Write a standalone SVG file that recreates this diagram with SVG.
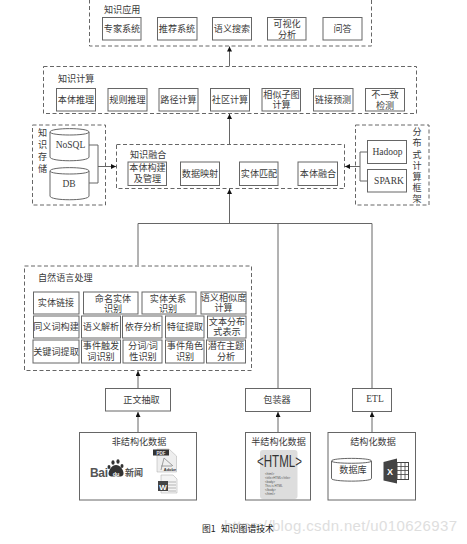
<svg xmlns="http://www.w3.org/2000/svg" width="467" height="544" viewBox="0 0 467 544">
<style>
text{font-family:"Liberation Serif","Noto Sans CJK SC",serif;font-size:9.1px;fill:#3a3a3a;text-anchor:middle}
.l{text-anchor:start}
.lat{font-size:9.5px}
.d{fill:none;stroke:#666;stroke-width:1;stroke-dasharray:4 2.5}
.b{fill:#fff;stroke:#666;stroke-width:1}
.c{fill:none;stroke:#666;stroke-width:1}
.a{fill:none;stroke:#666;stroke-width:1;marker-end:url(#arr)}
.s{font-family:"Liberation Sans",sans-serif}
.t{font-family:"Liberation Sans",sans-serif;font-size:3px;fill:#555;text-anchor:start}
</style>
<defs>
<marker id="arr" markerUnits="userSpaceOnUse" markerWidth="6" markerHeight="6" refX="5" refY="2.5" orient="auto"><path d="M0 0L5 2.5L0 5Z" fill="#111"/></marker>
</defs>
<rect width="467" height="544" fill="#fff"/>
<g id="connectors">
<path class="a" d="M229.500 66V46.500"/>
<path class="a" d="M229.500 144V114"/>
<path class="a" d="M229.500 223.500V189"/>
<path class="c" d="M138 265V223.500H372V388M278 223.500V388"/>
<path class="c" d="M89 145H98V183H89"/>
<path class="a" d="M98 166.500H116"/>
<path class="c" d="M367 152H360V181H367"/>
<path class="a" d="M360 166.500H345"/>
<path class="a" d="M138 388V371"/>
<path class="a" d="M138 432V412"/>
<path class="a" d="M278 432V412"/>
<path class="a" d="M372 432V412"/>
</g>
<g id="app">
<rect class="d" x="89.500" y="-4" width="282" height="50"/>
<text class="l" x="104" y="13">知识应用</text>
<rect class="b" x="102.500" y="17.500" width="38.500" height="22.500"/><text x="122" y="32">专家系统</text>
<rect class="b" x="157.500" y="17.500" width="39.500" height="22.500"/><text x="177" y="32">推荐系统</text>
<rect class="b" x="212.500" y="17.500" width="39" height="22.500"/><text x="232" y="32">语义搜索</text>
<rect class="b" x="267.500" y="17.500" width="38.500" height="22.500"/><text x="287" y="27">可视化</text><text x="287" y="38">分析</text>
<rect class="b" x="323" y="17.500" width="39" height="22.500"/><text x="342.500" y="32">问答</text>
</g>
<g id="compute">
<rect class="d" x="43.500" y="66.500" width="373" height="47"/>
<text class="l" x="58" y="82">知识计算</text>
<rect class="b" x="56.500" y="88.500" width="39" height="22.500"/><text x="76" y="103">本体推理</text>
<rect class="b" x="108" y="88.500" width="39" height="22.500"/><text x="127.500" y="103">规则推理</text>
<rect class="b" x="159" y="88.500" width="39" height="22.500"/><text x="178.500" y="103">路径计算</text>
<rect class="b" x="210.500" y="88.500" width="39" height="22.500"/><text x="230" y="103">社区计算</text>
<rect class="b" x="262" y="88.500" width="38.500" height="22.500"/><text x="281.500" y="98">相似子图</text><text x="281.500" y="108">计算</text>
<rect class="b" x="313.500" y="88.500" width="39.500" height="22.500"/><text x="333" y="103">链接预测</text>
<rect class="b" x="365.500" y="88.500" width="39" height="22.500"/><text x="385" y="98">不一致</text><text x="385" y="109">检测</text>
</g>
<g id="storage">
<rect class="d" x="32.500" y="125" width="73" height="80"/>
<text x="42.500" y="136">知</text><text x="42.500" y="148">识</text><text x="42.500" y="160">存</text><text x="42.500" y="172">储</text>
<path class="b" d="M50 132V157C50 162 89 162 89 157V132C89 127.500 50 127.500 50 132C50 136 89 136 89 132"/>
<text class="lat" x="70.500" y="147.500">NoSQL</text>
<path class="b" d="M50 171V196C50 201 89 201 89 196V171C89 166.500 50 166.500 50 171C50 175 89 175 89 171"/>
<text class="lat" x="69" y="186.500">DB</text>
</g>
<g id="fusion">
<rect class="d" x="116.500" y="144.500" width="228" height="44"/>
<text class="l" x="130" y="158">知识融合</text>
<rect class="b" x="128" y="162" width="38.500" height="23.500"/><text x="147.500" y="171">本体构建</text><text x="147.500" y="182">及管理</text>
<rect class="b" x="180.500" y="162" width="39" height="23.500"/><text x="200" y="177">数据映射</text>
<rect class="b" x="239.500" y="162" width="38.500" height="23.500"/><text x="259" y="177">实体匹配</text>
<rect class="b" x="298" y="162" width="39.500" height="23.500"/><text x="318" y="177">本体融合</text>
</g>
<g id="framework">
<rect class="d" x="355.500" y="125" width="73.500" height="80"/>
<rect class="b" x="367.500" y="140.500" width="39" height="23"/><text class="lat" x="387.500" y="155">Hadoop</text>
<rect class="b" x="367.500" y="169.500" width="39" height="22.500"/><text class="lat" x="389" y="184">SPARK</text>
<text x="417" y="135">分</text><text x="417" y="146">布</text><text x="417" y="157.500">式</text><text x="417" y="169">计</text><text x="417" y="180">算</text><text x="417" y="191">框</text><text x="417" y="202">架</text>
</g>
<g id="nlp">
<rect class="d" x="24.500" y="266" width="227" height="104.500"/>
<text class="l" x="38" y="281">自然语言处理</text>
<rect class="b" x="33.500" y="292" width="45.500" height="22"/><text x="56" y="306">实体链接</text>
<rect class="b" x="83.500" y="292" width="54.500" height="22"/><text x="113" y="302">命名实体</text><text x="113" y="312">识别</text>
<rect class="b" x="142" y="292" width="54" height="22"/><text x="168" y="302">实体关系</text><text x="168" y="312">识别</text>
<rect class="b" x="201" y="292" width="45" height="22"/><text x="223.500" y="301">语义相似度</text><text x="223.500" y="311">计算</text>
<rect class="b" x="33.500" y="316" width="45.500" height="22"/><text x="56" y="330">同义词构建</text>
<rect class="b" x="81.500" y="316" width="39" height="22"/><text x="101" y="330">语义解析</text>
<rect class="b" x="122.500" y="316" width="39.500" height="22"/><text x="143" y="330">依存分析</text>
<rect class="b" x="165.500" y="316" width="38.500" height="22"/><text x="185" y="330">特征提取</text>
<rect class="b" x="207.500" y="316" width="38.500" height="22"/><text x="227" y="325">文本分布</text><text x="227" y="335">式表示</text>
<rect class="b" x="33" y="340" width="46" height="23"/><text x="56" y="354.500">关键词提取</text>
<rect class="b" x="81.500" y="340" width="39" height="23"/><text x="101" y="349">事件触发</text><text x="101" y="359.500">词识别</text>
<rect class="b" x="123" y="340" width="39" height="23"/><text x="143" y="349">分词/词</text><text x="143" y="359.500">性识别</text>
<rect class="b" x="165.500" y="340" width="38.500" height="23"/><text x="185" y="349">事件角色</text><text x="185" y="359.500">识别</text>
<rect class="b" x="206.500" y="340" width="39" height="23"/><text x="226" y="349">潜在主题</text><text x="226" y="359.500">分析</text>
</g>
<g id="extract"><rect class="b" x="105.500" y="388.500" width="65" height="22.500"/><text x="141.500" y="403">正文抽取</text></g>
<g id="wrapper"><rect class="b" x="245.500" y="388.500" width="65" height="23"/><text x="277" y="403">包装器</text></g>
<g id="etl"><rect class="b" x="352.500" y="388.500" width="39" height="23"/><text class="lat" x="375" y="402">ETL</text></g>
<g id="unstructured">
<rect class="b" x="79.500" y="432.500" width="117" height="67.500"/>
<text x="139" y="445">非结构化数据</text>
<text class="l s" x="90" y="477" style="font-size:12px;font-weight:700;fill:#555" textLength="18">Bai</text>
<g fill="#333"><ellipse cx="113" cy="462.500" rx="1.600" ry="2.200"/><ellipse cx="118" cy="461.500" rx="1.600" ry="2.200"/><ellipse cx="109" cy="467" rx="1.500" ry="2"/><ellipse cx="122" cy="466" rx="1.500" ry="2"/><path d="M116 465C120 465 124 470 123.500 474C123 477 119 477 116 476C113 477 109 477 108.500 474C108.500 470 112 465 116 465Z"/></g>
<text x="116" y="475.500" class="s" style="font-size:5.500px;font-weight:700;fill:#fff">du</text>
<text class="l" x="125" y="476" style="font-family:'Noto Sans CJK SC',sans-serif;font-size:9px;font-weight:700;fill:#555">新闻</text>
<path d="M157 449H169L176.500 456V472H157Z" fill="#eee" stroke="#aaa" stroke-width=".5"/>
<rect x="153" y="449.500" width="16" height="6" fill="#333"/>
<text x="161" y="454.500" class="s" style="font-size:4.500px;font-weight:700;fill:#eee">PDF</text>
<path d="M164 458L161 470M164 458L173 466M161 466H172" fill="none" stroke="#888" stroke-width=".8"/>
<text x="170" y="471" class="s" style="font-size:4px;font-weight:700;fill:#333">Adobe</text>
<path d="M161 475H173L177 479V493H161Z" fill="#f4f4f4" stroke="#aaa" stroke-width=".5"/>
<path d="M168 482H176M168 485H176M168 488H176M168 491H176" stroke="#999" stroke-width=".7"/>
<rect x="158" y="481" width="10" height="10" fill="#444"/>
<text x="163" y="489.500" class="s" style="font-size:8px;font-weight:700;fill:#fff">W</text>
</g>
<g id="semi">
<rect class="b" x="245.500" y="432.500" width="65" height="67.500"/>
<text x="278.500" y="445">半结构化数据</text>
<rect x="260" y="450" width="37.500" height="49" rx="3" fill="#ddd"/>
<text class="s" x="279.500" y="467" style="font-size:16.500px;fill:#333" textLength="45" lengthAdjust="spacingAndGlyphs">&lt;HTML&gt;</text>
<text class="t" x="265" y="475">&lt;html&gt;</text>
<text class="t" x="265" y="479">&lt;title&gt;HTML&lt;/title&gt;</text>
<text class="t" x="265" y="483">&lt;body&gt;</text>
<text class="t" x="265" y="487">This is HTML</text>
<text class="t" x="265" y="491">&lt;/body&gt;</text>
<text class="t" x="265" y="495">&lt;/html&gt;</text>
</g>
<g id="structured">
<rect class="b" x="328" y="432.500" width="87.500" height="67.500"/>
<text x="373" y="444.500">结构化数据</text>
<path class="b" d="M331.500 461V478.500C331.500 482 371.500 482 371.500 478.500V461C371.500 457.500 331.500 457.500 331.500 461C331.500 464 371.500 464 371.500 461"/>
<text x="353" y="473">数据库</text>
<path d="M383.500 462L397 458.500V483.500L383.500 480.500Z" fill="#444"/>
<text x="390" y="475" class="s" style="font-size:9px;font-weight:700;fill:#fff">X</text>
<rect x="397" y="462.500" width="11.500" height="17" fill="#fff" stroke="#444"/>
<path d="M397 466.500H408.500M397 470.500H408.500M397 474.500H408.500M401 462.500V479.500M405 462.500V479.500" stroke="#444" stroke-width=".8"/>
</g>
<g id="caption">
<text class="l s" x="224" y="531" style="font-size:15px;fill:#dedede" textLength="233">https://blog.csdn.net/u010626937</text>
<text class="l" x="202" y="532" style="font-family:'Noto Sans CJK SC',sans-serif;font-size:8.800px;fill:#222">图1<tspan x="221">知识图谱技术</tspan></text>
</g>
</svg>
